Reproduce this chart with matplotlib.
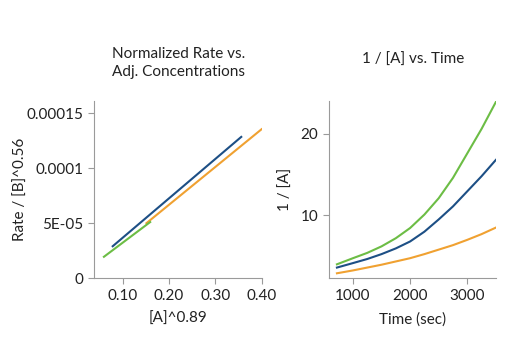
import matplotlib
matplotlib.use("Agg")
import matplotlib.pyplot as plt

plt.rcParams['font.family'] = ['Lato', 'DejaVu Sans']

# Normalized rate vs adjusted concentrations
blue_x = [0.078, 0.356]
blue_y = [2.9e-05, 1.285e-04]
orange_x = [0.151, 0.40]
orange_y = [5.0e-05, 1.355e-04]
green_x = [0.059, 0.159]
green_y = [1.94e-05, 5.1e-05]

# 1/[A] vs time
time = [720, 1000, 1250, 1500, 1750, 2000, 2250, 2500, 2750, 3000, 3250, 3500]
inv_green = [4.0, 4.75, 5.4, 6.2, 7.2, 8.45, 10.1, 12.1, 14.6, 17.6, 20.6, 23.9]
inv_blue = [3.6, 4.15, 4.65, 5.25, 5.95, 6.8, 8.0, 9.5, 11.1, 12.95, 14.8, 16.8]
inv_orange = [2.9, 3.25, 3.6, 3.95, 4.35, 4.75, 5.25, 5.8, 6.35, 7.0, 7.7, 8.5]

c_blue = '#1d4f85'
c_orange = '#f0a131'
c_green = '#6cbd45'
c_axis = '#9a9a9a'
c_text = '#222222'

fig = plt.figure(figsize=(5.18, 3.64), dpi=100)
ax1 = fig.add_axes([0.181, 0.236, 0.324, 0.486])
ax2 = fig.add_axes([0.635, 0.236, 0.323, 0.486])

ax1.plot(orange_x, orange_y, color=c_orange, lw=1.5)
ax1.plot(green_x, green_y, color=c_green, lw=1.5)
ax1.plot(blue_x, blue_y, color=c_blue, lw=1.5)
ax1.set_xlim(0.037, 0.40)
ax1.set_ylim(0, 0.000161)
ax1.set_xticks([0.10, 0.20, 0.30, 0.40])
ax1.set_xticklabels(['0.10', '0.20', '0.30', '0.40'])
ax1.set_yticks([0, 5e-05, 1e-04, 1.5e-04])
ax1.set_yticklabels(['0', '5E-05', '0.0001', '0.00015'])
ax1.set_xlabel('[A]^0.89', fontsize=11, color=c_text, labelpad=7)
ax1.set_ylabel('Rate / [B]^0.56', fontsize=11, color=c_text)
ax1.yaxis.set_label_coords(-0.393, 0.5)

ax2.plot(time, inv_green, color=c_green, lw=1.5)
ax2.plot(time, inv_blue, color=c_blue, lw=1.5)
ax2.plot(time, inv_orange, color=c_orange, lw=1.5)
ax2.set_xlim(580, 3507)
ax2.set_ylim(2.31, 24.0)
ax2.set_xticks([1000, 2000, 3000])
ax2.set_yticks([10, 20])
ax2.set_xlabel('Time (sec)', fontsize=11, color=c_text, labelpad=7)
ax2.set_ylabel('1 / [A]', fontsize=11, color=c_text)
ax2.yaxis.set_label_coords(-0.217, 0.5)

for ax in (ax1, ax2):
    for s in ('top', 'right'):
        ax.spines[s].set_visible(False)
    for s in ('left', 'bottom'):
        ax.spines[s].set_color(c_axis)
        ax.spines[s].set_linewidth(0.8)
    ax.tick_params(colors=c_axis, labelcolor=c_text, labelsize=11, length=4, width=0.8)

fig.text(0.344, 1 - 63/364, 'Normalized Rate vs.\nAdj. Concentrations', ha='center', va='center',
         fontsize=11, color=c_text, linespacing=1.3)
fig.text(0.797, 1 - 60/364, '1 / [A] vs. Time', ha='center', va='center', fontsize=11, color=c_text)

fig.savefig('out.png', dpi=100)
